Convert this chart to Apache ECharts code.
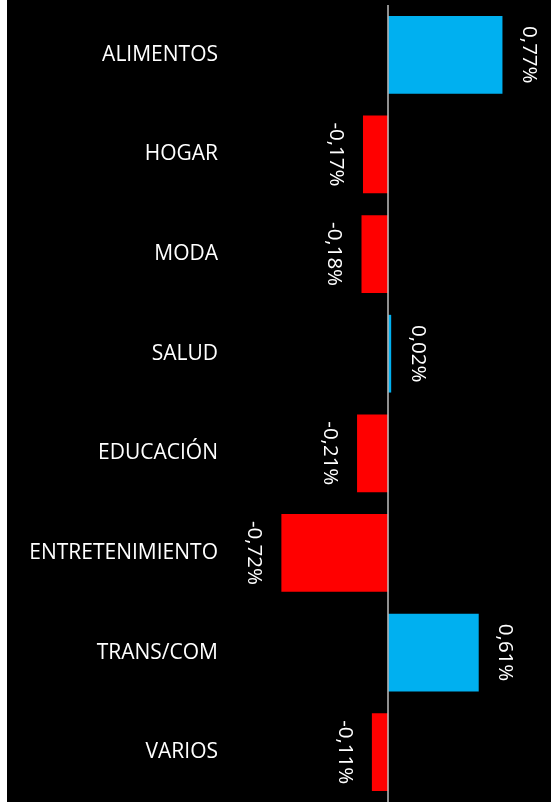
<!DOCTYPE html>
<html>
<head>
<meta charset="utf-8">
<script src="https://cdn.jsdelivr.net/npm/echarts@6/dist/echarts.min.js"></script>
<style>
  html, body { margin: 0; padding: 0; background: #ffffff; }
  #chart { position: absolute; left: 7px; top: 0; width: 544px; height: 802px; background: #000000; }
</style>
</head>
<body>
<div id="chart"></div>
<script>
const categories = ['ALIMENTOS', 'HOGAR', 'MODA', 'SALUD', 'EDUCACIÓN', 'ENTRETENIMIENTO', 'TRANS/COM', 'VARIOS'];
const values = [0.77, -0.17, -0.18, 0.02, -0.21, -0.72, 0.61, -0.11];
const positiveColor = '#00B0F0';
const negativeColor = '#FF0000';

const FONT = '"Open Sans", sans-serif';

const seriesData = values.map(function (v) {
  const pos = v >= 0;
  return {
    value: v,
    itemStyle: { color: pos ? positiveColor : negativeColor },
    label: {
      position: pos ? 'right' : 'left',
      distance: pos ? 16 : 17,
      align: 'center',
      verticalAlign: pos ? 'bottom' : 'top'
    }
  };
});

const chart = echarts.init(document.getElementById('chart'), null, { renderer: 'canvas' });
chart.setOption({
  backgroundColor: '#000000',
  animation: false,
  grid: { left: 218, right: 7, top: 5, height: 800, containLabel: false },
  xAxis: {
    type: 'value',
    min: -1.1,
    max: 1.05,
    show: false,
    splitLine: { show: false }
  },
  yAxis: {
    type: 'category',
    data: categories,
    inverse: true,
    axisLine: { show: false },
    axisTick: { show: false },
    splitLine: { show: false },
    axisLabel: {
      color: '#ffffff',
      fontFamily: FONT,
      fontSize: 21,
      margin: 7
    }
  },
  series: [{
    type: 'bar',
    data: seriesData,
    barCategoryGap: '22%',
    label: {
      show: true,
      rotate: -90,
      color: '#ffffff',
      fontFamily: FONT,
      fontSize: 20.5,
      formatter: function (p) {
        return p.value.toFixed(2).replace('.', ',') + '%';
      }
    },
    markLine: {
      silent: true,
      symbol: 'none',
      label: { show: false },
      lineStyle: { color: '#bfbfbf', width: 1.5, type: 'solid' },
      data: [{ xAxis: 0 }]
    }
  }]
});
</script>
</body>
</html>
